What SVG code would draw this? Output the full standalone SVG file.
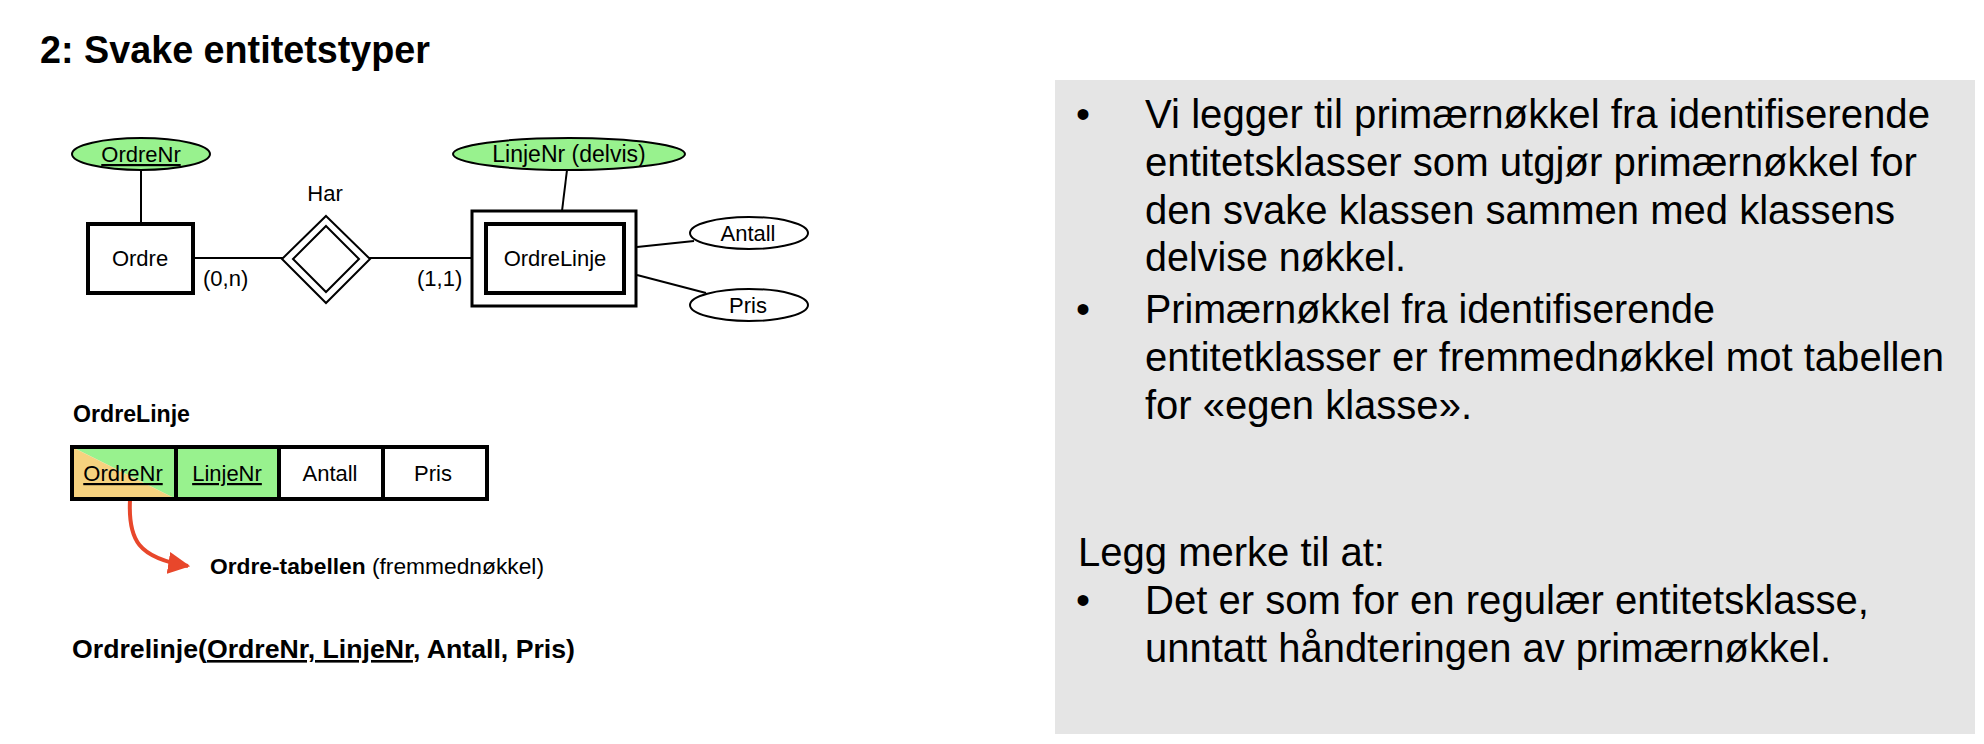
<svg xmlns="http://www.w3.org/2000/svg" width="1984" height="744" viewBox="0 0 1984 744">
<style>
text{font-family:"Liberation Sans",Arial,Helvetica,sans-serif;fill:#000}
.t22{font-size:22px}
.mid{text-anchor:middle}
.u{text-decoration:underline}
.b{font-weight:bold}
.body{font-size:40px}
.key{fill:#98f28e;stroke:#000;stroke-width:2}
.attr{fill:#fff;stroke:#000;stroke-width:2}
.ln{stroke:#000;stroke-width:2;fill:none}
.ent{fill:#fff;stroke:#000;stroke-width:4}
.cell{stroke:#000;stroke-width:4;fill:none}
</style>
<defs>
<marker id="arr" viewBox="0 0 10 10" refX="9" refY="5" markerWidth="5.5" markerHeight="5.5" orient="auto" markerUnits="strokeWidth">
<path d="M0,0 L10,5 L0,10 z" fill="#e8472b"/>
</marker>
</defs>
<rect width="1984" height="744" fill="#fff"/>
<text id="title" x="40" y="63" class="b" font-size="38" textLength="390" lengthAdjust="spacingAndGlyphs">2: Svake entitetstyper</text>

<g id="connectors">
<line class="ln" x1="141" y1="170" x2="141" y2="224"/>
<line class="ln" x1="193" y1="258" x2="283" y2="258"/>
<line class="ln" x1="369" y1="258" x2="472" y2="258"/>
<line class="ln" x1="567" y1="170" x2="562" y2="211"/>
<line class="ln" x1="637" y1="247" x2="694" y2="241"/>
<line class="ln" x1="637" y1="275" x2="706" y2="293"/>
<path d="M130,500 C128,540 138,558 188,566" stroke="#e8472b" stroke-width="4" fill="none" marker-end="url(#arr)"/>
</g>

<g id="OrdreNr">
<ellipse class="key" cx="141" cy="154" rx="69" ry="16"/>
<text class="t22 mid u" x="141" y="162">OrdreNr</text>
</g>
<g id="Ordre">
<rect class="ent" x="88" y="224" width="105" height="69"/>
<text class="t22 mid" x="140" y="266">Ordre</text>
<text class="t22" x="203" y="286">(0,n)</text>
</g>
<g id="Har">
<polygon points="326,216 370,259 326,303 282,259" fill="#fff" stroke="#000" stroke-width="2"/>
<polygon points="326,226 359,259 326,292 293,259" fill="none" stroke="#000" stroke-width="2"/>
<text class="t22 mid" x="325" y="201">Har</text>
</g>
<g id="OrdreLinje">
<rect x="472" y="211" width="164" height="95" fill="#fff" stroke="#000" stroke-width="3"/>
<rect class="ent" x="486" y="224" width="138" height="69"/>
<text class="t22 mid" x="555" y="266">OrdreLinje</text>
<text class="t22" x="417" y="286">(1,1)</text>
</g>
<g id="LinjeNr">
<ellipse class="key" cx="569" cy="154" rx="116" ry="16"/>
<text class="mid" font-size="23" x="569" y="162">LinjeNr (delvis)</text>
</g>
<g id="Antall">
<ellipse class="attr" cx="749" cy="233" rx="59" ry="16"/>
<text class="t22 mid" x="748" y="241">Antall</text>
</g>
<g id="Pris">
<ellipse class="attr" cx="749" cy="305" rx="59" ry="16"/>
<text class="t22 mid" x="748" y="313">Pris</text>
</g>

<g id="table">
<text class="b" x="73" y="422" font-size="23" textLength="117" lengthAdjust="spacingAndGlyphs">OrdreLinje</text>
<polygon points="72,447 176,447 176,499" fill="#98f28e"/>
<polygon points="72,447 176,499 72,499" fill="#f6d27f"/>
<rect x="176" y="447" width="103" height="52" fill="#98f28e"/>
<rect class="cell" x="72" y="447" width="415" height="52"/>
<line class="cell" x1="176" y1="447" x2="176" y2="499"/>
<line class="cell" x1="279" y1="447" x2="279" y2="499"/>
<line class="cell" x1="383" y1="447" x2="383" y2="499"/>
<text class="t22 mid u" x="123" y="481">OrdreNr</text>
<text class="t22 mid u" x="227" y="481">LinjeNr</text>
<text class="t22 mid" x="330" y="481">Antall</text>
<text class="t22 mid" x="433" y="481">Pris</text>
</g>

<g id="fk-label">
<text x="210" y="574" font-size="22.5" textLength="334" lengthAdjust="spacingAndGlyphs"><tspan class="b">Ordre-tabellen</tspan> (fremmednøkkel)</text>
</g>
<g id="relation">
<text class="b" x="72" y="658" font-size="26" textLength="503" lengthAdjust="spacingAndGlyphs">Ordrelinje(<tspan class="u">OrdreNr, LinjeNr</tspan>, Antall, Pris)</text>
</g>

<g id="notes">
<rect x="1055" y="80" width="920" height="654" fill="#e5e5e5"/>
<text class="body" x="1076" y="128">•</text>
<text class="body" x="1145" y="128" textLength="785" lengthAdjust="spacingAndGlyphs">Vi legger til primærnøkkel fra identifiserende</text>
<text class="body" x="1145" y="176" textLength="772" lengthAdjust="spacingAndGlyphs">entitetsklasser som utgjør primærnøkkel for</text>
<text class="body" x="1145" y="224" textLength="750" lengthAdjust="spacingAndGlyphs">den svake klassen sammen med klassens</text>
<text class="body" x="1145" y="271" textLength="261" lengthAdjust="spacingAndGlyphs">delvise nøkkel.</text>
<text class="body" x="1076" y="323">•</text>
<text class="body" x="1145" y="323" textLength="570" lengthAdjust="spacingAndGlyphs">Primærnøkkel fra identifiserende</text>
<text class="body" x="1145" y="371" textLength="799" lengthAdjust="spacingAndGlyphs">entitetklasser er fremmednøkkel mot tabellen</text>
<text class="body" x="1145" y="419" textLength="327" lengthAdjust="spacingAndGlyphs">for «egen klasse».</text>
<text class="body" x="1078" y="566" textLength="307" lengthAdjust="spacingAndGlyphs">Legg merke til at:</text>
<text class="body" x="1076" y="614">•</text>
<text class="body" x="1145" y="614" textLength="724" lengthAdjust="spacingAndGlyphs">Det er som for en regulær entitetsklasse,</text>
<text class="body" x="1145" y="662" textLength="686" lengthAdjust="spacingAndGlyphs">unntatt håndteringen av primærnøkkel.</text>
</g>
</svg>
